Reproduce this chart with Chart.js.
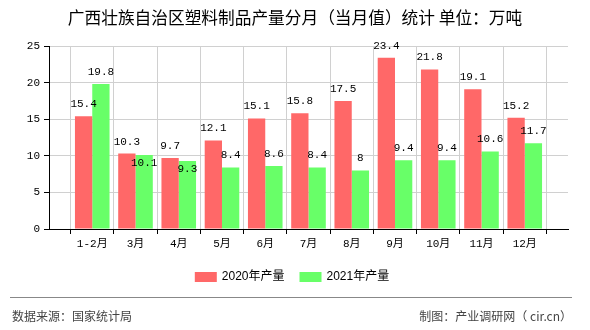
<!DOCTYPE html>
<html>
<head>
<meta charset="utf-8">
<script src="https://cdn.jsdelivr.net/npm/chart.js@4.4.1/dist/chart.umd.min.js"></script>
<style>
    html, body { margin: 0; padding: 0; background: #fff; }
    #wrap { width: 590px; height: 330px; position: relative; }
</style>
</head>
<body>
<div id="wrap"><canvas id="chart" width="590" height="330"></canvas></div>
<script>
// categories and values
const months = ['1-2月', '3月', '4月', '5月', '6月', '7月', '8月', '9月', '10月', '11月', '12月'];
const output2020 = [15.4, 10.3, 9.7, 12.1, 15.1, 15.8, 17.5, 23.4, 21.8, 19.1, 15.2];
const output2021 = [19.8, 10.1, 9.3, 8.4, 8.6, 8.4, 8, 9.4, 9.4, 10.6, 11.7];
const yTicks = [0, 5, 10, 15, 20, 25];
const seriesNames = ['2020年产量', '2021年产量'];

const titleText = '广西壮族自治区塑料制品产量分月（当月值）统计 单位：万吨';
const sourceText = '数据来源：国家统计局';
const makerText = '制图：产业调研网（ cir.cn）';

const RED = '#ff6868';
const GREEN = '#68ff68';
const monoFont = "'Liberation Mono', 'Noto Sans CJK SC', monospace";

// the axis has an empty slot at each end, ticks sit on the bar pairs
const labels = [''].concat(months, ['']);
const pad = arr => [null].concat(arr, [null]);

// draws values above the bars, pushes the second one down if it clashes
const valueLabels = {
    id: 'valueLabels',
    afterDatasetsDraw(chart) {
        const ctx = chart.ctx;
        const m0 = chart.getDatasetMeta(0).data;
        const m1 = chart.getDatasetMeta(1).data;
        ctx.save();
        ctx.font = '11px ' + monoFont;
        ctx.fillStyle = '#000';
        ctx.textAlign = 'center';
        ctx.textBaseline = 'middle';
        for (let i = 0; i < m0.length; i++) {
            const v0 = chart.data.datasets[0].data[i];
            const v1 = chart.data.datasets[1].data[i];
            if (v0 == null) continue;
            const y0 = m0[i].y - 12;
            let y1 = m1[i].y - 12;
            if (Math.abs(y0 - y1) < 12) y1 = m1[i].y + 8;
            ctx.fillText(String(v0), m0[i].x, y0);
            ctx.fillText(String(v1), m1[i].x, y1);
        }
        ctx.restore();
    }
};

// title, legend and footer around the plot
const frame = {
    id: 'frame',
    afterDraw(chart) {
        const ctx = chart.ctx;
        ctx.save();
        ctx.fillStyle = '#000';
        ctx.textBaseline = 'middle';
        ctx.textAlign = 'center';
        ctx.font = "16.7px 'Noto Sans CJK SC'";
        ctx.fillText(titleText, 295, 18);

        // legend
        ctx.font = "12px 'Liberation Sans', 'Noto Sans CJK SC'";
        ctx.textAlign = 'left';
        const colors = [RED, GREEN];
        const widths = seriesNames.map(s => ctx.measureText(s).width);
        const total = widths.reduce((a, w) => a + 22 + 5 + w, 0) + 15;
        let x = 292 - total / 2;
        seriesNames.forEach((name, i) => {
            ctx.fillStyle = colors[i];
            ctx.fillRect(x, 272, 22, 10);
            ctx.fillStyle = '#000';
            ctx.fillText(name, x + 27, 277);
            x += 22 + 5 + widths[i] + 15;
        });

        // footer
        ctx.strokeStyle = '#888';
        ctx.lineWidth = 1;
        ctx.beginPath();
        ctx.moveTo(10, 297.5);
        ctx.lineTo(572, 297.5);
        ctx.stroke();
        ctx.fillStyle = '#444';
        ctx.font = "12px 'Noto Sans CJK SC'";
        ctx.fillText(sourceText, 12, 316);
        ctx.textAlign = 'right';
        ctx.fillText(makerText, 572, 316);
        ctx.restore();
    }
};

new Chart(document.getElementById('chart').getContext('2d'), {
    type: 'bar',
    data: {
        labels: labels,
        datasets: [
            { label: seriesNames[0], data: pad(output2020), backgroundColor: RED },
            { label: seriesNames[1], data: pad(output2021), backgroundColor: GREEN }
        ]
    },
    options: {
        responsive: false,
        animation: false,
        events: [],
        layout: { padding: { left: 0, top: 46, right: 22, bottom: 0 } },
        categoryPercentage: 0.8,
        barPercentage: 1.0,
        plugins: {
            legend: { display: false },
            tooltip: { enabled: false }
        },
        scales: {
            x: {
                offset: false,
                afterFit: scale => { scale.height = 101; },
                grid: { color: '#d0d0d0', tickColor: '#000', tickLength: 5 },
                border: { color: '#000' },
                ticks: {
                    color: '#000',
                    font: { family: monoFont, size: 11 },
                    padding: 3,
                    maxRotation: 0,
                    autoSkip: false
                }
            },
            y: {
                min: yTicks[0],
                max: yTicks[yTicks.length - 1],
                afterFit: scale => { scale.width = 49; },
                afterBuildTicks: scale => { scale.ticks = yTicks.map(v => ({ value: v })); },
                grid: { color: '#d0d0d0', tickColor: '#000', tickLength: 5 },
                border: { color: '#000' },
                ticks: {
                    color: '#000',
                    font: { family: monoFont, size: 11 },
                    padding: 4
                }
            }
        }
    },
    plugins: [valueLabels, frame]
});
</script>
</body>
</html>
